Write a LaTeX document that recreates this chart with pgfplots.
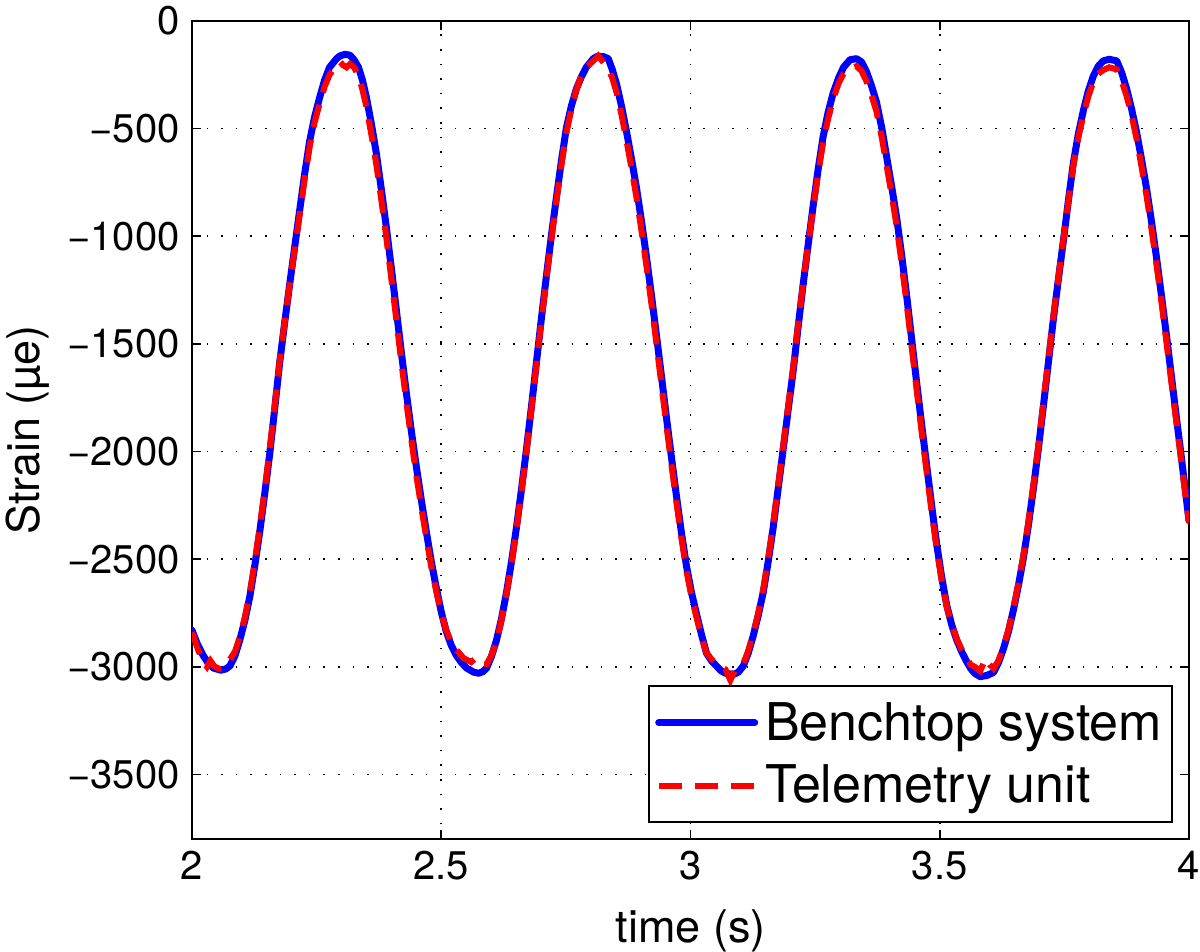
\documentclass[border=0pt]{standalone}
\usepackage{fontspec}
\setmainfont{TeX Gyre Heros}
\usepackage{pgfplots}
\usepackage{pgfplotstable}
\pgfplotsset{compat=1.18}
\pgfplotstableread{
x y
2.000 -2830
2.010 -2890
2.022 -2946
2.033 -2985
2.043 -3006
2.058 -3016
2.068 -3010
2.076 -2996
2.086 -2950
2.096 -2875
2.106 -2785
2.116 -2674
2.126 -2530
2.136 -2371
2.146 -2195
2.156 -2009
2.166 -1800
2.176 -1585
2.186 -1400
2.196 -1223
2.206 -1050
2.216 -880
2.226 -710
2.236 -558
2.246 -445
2.256 -356
2.266 -275
2.276 -215
2.290 -175
2.297 -162
2.307 -155
2.317 -159
2.325 -180
2.334 -215
2.342 -275
2.350 -356
2.360 -480
2.370 -618
2.380 -785
2.390 -961
2.400 -1150
2.410 -1344
2.420 -1540
2.430 -1727
2.440 -1905
2.450 -2069
2.460 -2225
2.470 -2371
2.480 -2510
2.490 -2633
2.500 -2745
2.510 -2835
2.520 -2900
2.530 -2946
2.541 -2982
2.551 -3006
2.565 -3025
2.575 -3030
2.584 -3022
2.591 -3006
2.601 -2950
2.611 -2875
2.621 -2775
2.631 -2653
2.641 -2510
2.651 -2351
2.661 -2175
2.671 -1988
2.681 -1790
2.691 -1585
2.701 -1380
2.711 -1183
2.721 -995
2.731 -820
2.741 -650
2.751 -497
2.761 -395
2.771 -316
2.781 -260
2.791 -215
2.805 -175
2.812 -165
2.825 -165
2.835 -175
2.843 -225
2.852 -296
2.862 -400
2.872 -518
2.882 -645
2.892 -780
2.902 -935
2.912 -1102
2.922 -1280
2.932 -1465
2.942 -1655
2.952 -1847
2.962 -2030
2.972 -2210
2.982 -2380
2.992 -2533
3.002 -2655
3.012 -2754
3.022 -2850
3.032 -2936
3.042 -2972
3.052 -2996
3.061 -3018
3.070 -3030
3.086 -3036
3.096 -3025
3.106 -2996
3.116 -2935
3.126 -2855
3.136 -2760
3.146 -2653
3.156 -2510
3.166 -2351
3.176 -2170
3.186 -1988
3.196 -1805
3.206 -1626
3.216 -1420
3.226 -1223
3.236 -1040
3.246 -860
3.256 -690
3.266 -538
3.276 -425
3.286 -336
3.297 -265
3.307 -215
3.320 -180
3.333 -175
3.343 -190
3.353 -235
3.363 -300
3.373 -376
3.384 -500
3.394 -638
3.404 -775
3.414 -921
3.424 -1095
3.434 -1283
3.444 -1485
3.454 -1686
3.464 -1880
3.474 -2069
3.484 -2255
3.494 -2432
3.504 -2585
3.514 -2714
3.524 -2805
3.534 -2875
3.544 -2930
3.554 -2976
3.562 -3008
3.570 -3030
3.581 -3046
3.595 -3040
3.608 -3026
3.618 -2980
3.628 -2915
3.638 -2835
3.648 -2734
3.658 -2620
3.668 -2492
3.678 -2340
3.688 -2170
3.698 -1985
3.708 -1787
3.718 -1585
3.728 -1384
3.738 -1200
3.748 -1021
3.758 -835
3.768 -659
3.778 -525
3.788 -417
3.798 -325
3.808 -256
3.818 -210
3.828 -185
3.840 -178
3.855 -185
3.865 -240
3.875 -316
3.885 -410
3.895 -518
3.905 -645
3.915 -780
3.925 -935
3.935 -1102
3.945 -1280
3.955 -1465
3.965 -1655
3.975 -1847
3.983 -1995
3.990 -2130
4.000 -2321
}\benchtop
\pgfplotstableread{
x y
2.000 -2840
2.012 -2920
2.022 -2975
2.030 -3000
2.037 -2972
2.045 -2998
2.055 -3010
2.065 -3000
2.076 -2965
2.086 -2930
2.096 -2860
2.106 -2770
2.116 -2655
2.126 -2510
2.136 -2350
2.146 -2175
2.156 -1990
2.166 -1785
2.176 -1575
2.186 -1395
2.196 -1225
2.206 -1060
2.216 -900
2.226 -735
2.236 -585
2.246 -470
2.256 -385
2.266 -305
2.276 -250
2.290 -205
2.297 -190
2.303 -205
2.310 -215
2.317 -200
2.325 -215
2.334 -255
2.342 -320
2.350 -400
2.360 -530
2.370 -670
2.380 -835
2.390 -1010
2.400 -1200
2.410 -1390
2.420 -1585
2.430 -1770
2.440 -1945
2.450 -2110
2.460 -2260
2.470 -2400
2.480 -2535
2.490 -2650
2.500 -2750
2.510 -2830
2.520 -2885
2.530 -2920
2.545 -2960
2.560 -2978
2.568 -2962
2.578 -2990
2.591 -2988
2.601 -2945
2.611 -2880
2.621 -2780
2.631 -2660
2.641 -2520
2.651 -2360
2.661 -2185
2.671 -2000
2.681 -1800
2.691 -1595
2.701 -1390
2.711 -1195
2.721 -1010
2.731 -835
2.741 -670
2.751 -520
2.761 -410
2.771 -320
2.781 -255
2.791 -215
2.805 -185
2.815 -162
2.825 -192
2.835 -222
2.843 -265
2.852 -335
2.862 -440
2.872 -560
2.882 -690
2.892 -825
2.902 -980
2.912 -1145
2.922 -1320
2.932 -1505
2.942 -1695
2.952 -1885
2.962 -2065
2.972 -2240
2.982 -2405
2.992 -2555
3.002 -2675
3.012 -2770
3.022 -2860
3.032 -2935
3.042 -2965
3.052 -2985
3.061 -3000
3.070 -3012
3.080 -3062
3.090 -3012
3.100 -3000
3.106 -2985
3.116 -2925
3.126 -2845
3.136 -2750
3.146 -2640
3.156 -2495
3.166 -2335
3.176 -2155
3.186 -1975
3.196 -1790
3.206 -1610
3.216 -1405
3.226 -1215
3.236 -1040
3.246 -870
3.256 -710
3.266 -565
3.276 -455
3.286 -365
3.297 -290
3.307 -245
3.320 -222
3.333 -210
3.343 -232
3.353 -280
3.363 -345
3.373 -420
3.384 -545
3.394 -680
3.404 -815
3.414 -960
3.424 -1135
3.434 -1320
3.444 -1520
3.454 -1720
3.464 -1915
3.474 -2100
3.484 -2285
3.494 -2455
3.504 -2600
3.514 -2720
3.524 -2805
3.534 -2870
3.544 -2920
3.554 -2960
3.562 -2990
3.570 -3000
3.581 -3020
3.592 -2962
3.600 -2990
3.608 -3008
3.618 -2970
3.628 -2905
3.638 -2825
3.648 -2725
3.658 -2610
3.668 -2480
3.678 -2325
3.688 -2155
3.698 -1970
3.708 -1770
3.718 -1570
3.728 -1370
3.738 -1190
3.748 -1015
3.758 -840
3.768 -670
3.778 -540
3.788 -440
3.798 -350
3.808 -285
3.818 -245
3.828 -228
3.840 -215
3.855 -225
3.865 -280
3.875 -350
3.885 -440
3.895 -550
3.905 -680
3.915 -815
3.925 -970
3.935 -1135
3.945 -1310
3.955 -1495
3.965 -1685
3.975 -1870
3.983 -2015
3.990 -2150
4.000 -2330
}\telemetry
\begin{document}
\begin{tikzpicture}
\begin{axis}[
  scale only axis,
  width=498.5pt, height=409pt,
  xmin=2, xmax=4, ymin=-3800, ymax=0,
  xtick={2,2.5,3,3.5,4},
  xticklabels={2,2.5,3,3.5,4},
  ytick={-3500,-3000,-2500,-2000,-1500,-1000,-500,0},
  yticklabels={−3500,−3000,−2500,−2000,−1500,−1000,−500,0},
  tick align=inside,
  major tick length=4.5pt,
  tick style={black, line width=0.8pt},
  axis line style={black, line width=1.2pt},
  grid=major,
  grid style={black, line width=0.8pt, dash pattern=on 0.8pt off 6.5pt},
  ticklabel style={font=\fontsize{20}{24}\selectfont, inner sep=0pt},
  xticklabel style={anchor=base, yshift=-20.5pt},
  yticklabel style={anchor=east, xshift=-6pt},
  xlabel={time (s)},
  ylabel={Strain (µe)},
  label style={font=\fontsize{22.5}{27}\selectfont, inner sep=0pt},
  xlabel style={at={(axis description cs:0.5,-0.126)}, anchor=base},
  ylabel style={at={(axis description cs:-0.165,0.5)}, anchor=center},
  legend cell align=left,
  legend image code/.code={\draw[#1] (2pt,0pt) -- (50pt,0pt);},
  legend style={at={(axis description cs:1,0)}, anchor=south east,
    xshift=-8pt, yshift=8pt, draw=black, line width=1pt,
    font=\fontsize{26}{31}\selectfont,
    inner xsep=3pt, inner ysep=6pt, row sep=7pt, column sep=1.5pt},
]
\addplot[blue, line width=3.5pt, line join=round, line cap=round] table[x=x, y=y] {\benchtop};
\addlegendentry{Benchtop system}
\addplot[red, line width=3pt, dash pattern=on 11.5pt off 6.5pt] table[x=x, y=y] {\telemetry};
\addlegendentry{Telemetry unit}
\end{axis}
\pgfresetboundingbox
\path[use as bounding box] ([xshift=-96pt,yshift=-56.5pt]current axis.south west) rectangle ([xshift=5.5pt,yshift=10.5pt]current axis.north east);
\end{tikzpicture}
\end{document}
